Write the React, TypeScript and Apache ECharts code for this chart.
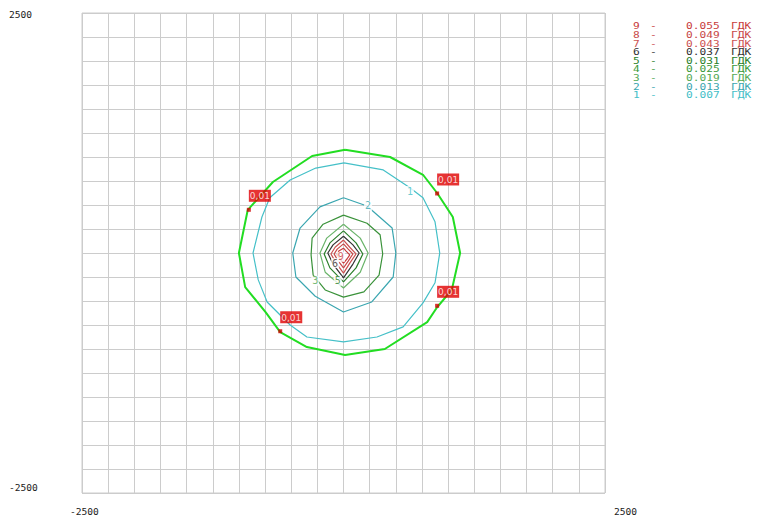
import React, { useEffect, useRef } from 'react';
import * as echarts from 'echarts';

// Legend (isoline levels)
const levelNumbers = ['9', '8', '7', '6', '5', '4', '3', '2', '1'];
const levelValues = ['0.055', '0.049', '0.043', '0.037', '0.031', '0.025', '0.019', '0.013', '0.007'];
const levelUnit = 'ГДК';
const levelColors = ['#c83c3c', '#c84848', '#cc5252', '#333333', '#2a7f2a', '#3c9a3c', '#55aa55', '#3aa6b0', '#45c0c8'];

// Axis tick labels (only extremes shown)
const xTickLabels = ['-2500', '2500'];
const yTickLabels = ['2500', '-2500'];

// Isolines [x, y] in metres
const contour1 = [[5, 938], [380, 865], [635, 680], [760, 575], [875, 325], [920, 0], [875, -310], [760, -520], [570, -770], [320, -875], [0, -925], [-350, -875], [-510, -750], [-730, -510], [-815, -280], [-865, 0], [-780, 375], [-705, 575], [-510, 760], [-265, 885]];
const contour2 = [[0, 575], [225, 490], [465, 260], [500, 0], [475, -250], [270, -510], [0, -615], [-270, -450], [-455, -250], [-485, 0], [-415, 260], [-225, 480]];
const contour3 = [[0, 395], [225, 310], [350, 190], [375, -10], [340, -230], [195, -405], [0, -460], [-175, -385], [-290, -230], [-310, -20], [-300, 155], [-195, 300]];
const contour4 = [[0, 300], [160, 155], [235, 0], [160, -200], [0, -365], [-175, -200], [-225, 0], [-160, 155]];
const contour5 = [[0, 230], [120, 105], [185, -10], [120, -155], [0, -300], [-130, -155], [-185, -10], [-130, 105]];
const contour6 = [[0, 175], [90, 85], [150, 0], [90, -115], [0, -260], [-100, -115], [-150, 0], [-100, 85]];
const contour7 = [[0, 135], [60, 60], [120, -10], [60, -105], [0, -210], [-70, -105], [-120, -10], [-80, 60]];
const contour8 = [[0, 95], [45, 40], [90, -10], [45, -85], [0, -155], [-50, -85], [-90, -10], [-60, 40]];
const contour9 = [[0, 50], [25, 20], [60, -20], [35, -60], [0, -105], [-35, -60], [-60, -20], [-45, 20]];
const outerContour = [[15, 1075], [445, 1000], [760, 815], [895, 625], [1045, 375], [1115, 0], [1035, -385], [895, -565], [800, -720], [395, -1000], [15, -1063], [-350, -980], [-605, -825], [-745, -615], [-940, -355], [-1000, 0], [-915, 450], [-675, 740], [-300, 1010]];

const contours = [contour1, contour2, contour3, contour4, contour5, contour6, contour7, contour8, contour9];
const contourColors = ['#45c0c8', '#3aa6b0', '#3a923a', '#6ab46a', '#2a7f2a', '#333333', '#cc5252', '#c84848', '#c83c3c'];

// Isoline number labels
const contourLabelTexts = ['1', '2', '3', '5', '6', '9'];
const contourLabelPoints = [[635, 645], [235, 490], [-270, -290], [-55, -290], [-80, -105], [-25, -40]];
const contourLabelColors = ['#45c0c8', '#3aa6b0', '#55aa55', '#2a7f2a', '#333333', '#c83c3c'];

// Markers with value 0,01
const markerPoints = [[-905, 450], [895, 620], [-605, -815], [895, -550]];
const markerLabel = '0,01';

export default function App() {
  const ref = useRef<HTMLDivElement>(null);
  useEffect(() => {
    if (!ref.current) return;
    const chart = echarts.init(ref.current, undefined, { renderer: 'svg' });
    const mono = 'DejaVu Sans Mono';
    const series: any[] = [];
    contours.forEach((pts, i) => {
      series.push({
        type: 'line',
        data: [...pts, pts[0]],
        symbol: 'none',
        lineStyle: { color: contourColors[i], width: 1.2 },
        z: 3,
      });
    });
    series.push({
      type: 'line',
      data: [...outerContour, outerContour[0]],
      symbol: 'none',
      lineStyle: { color: '#22dd22', width: 2 },
      z: 4,
    });
    series.push({
      type: 'scatter',
      data: contourLabelPoints.map((p, i) => ({
        value: p,
        label: { color: contourLabelColors[i], formatter: contourLabelTexts[i] },
      })),
      symbolSize: 1,
      itemStyle: { color: 'transparent' },
      label: {
        show: true,
        position: 'inside',
        fontFamily: mono,
        fontSize: 10,
        backgroundColor: '#ffffff',
        padding: [0, 1],
      },
      z: 5,
    });
    series.push({
      type: 'scatter',
      data: markerPoints,
      symbol: 'rect',
      symbolSize: 4,
      itemStyle: { color: '#d00000' },
      label: {
        show: true,
        formatter: markerLabel,
        position: [2, -18],
        align: 'left',
        verticalAlign: 'top',
        color: '#ffffff',
        backgroundColor: '#e00000',
        fontFamily: 'DejaVu Sans',
        fontSize: 9,
        padding: [2, 1, 1, 1],
      },
      z: 6,
    });

    const graphics: any[] = [];
    levelNumbers.forEach((n, i) => {
      const y = 26.5 + i * 8.6;
      const c = levelColors[i];
      const mk = (x: number, text: string) => ({
        type: 'text',
        x,
        y,
        scaleX: 1.4,
        style: { text, x: 0, y: 0, fontFamily: mono, fontSize: 8, lineHeight: 8, fill: c, verticalAlign: 'middle', align: 'left' },
      });
      graphics.push(mk(633, n));
      graphics.push(mk(650, '-'));
      graphics.push(mk(686, levelValues[i]));
      graphics.push(mk(731, levelUnit));
    });
    const axisText = (x: number, y: number, text: string) => ({
      type: 'text',
      x,
      y,
      scaleX: 1.2,
      style: { text, x: 0, y: 0, fontFamily: mono, fontSize: 8, lineHeight: 8, fill: '#222222', verticalAlign: 'middle', align: 'left' },
    });
    graphics.push(axisText(9, 15, yTickLabels[0]));
    graphics.push(axisText(9, 488, yTickLabels[1]));
    graphics.push(axisText(70, 512, xTickLabels[0]));
    graphics.push(axisText(614, 512, xTickLabels[1]));

    const axisCommon = {
      type: 'value',
      min: -2500,
      max: 2500,
      interval: 250,
      axisLabel: { show: false },
      axisTick: { show: false },
      axisLine: { show: false },
      splitLine: { show: true, lineStyle: { color: '#cccccc', width: 1 } },
    };
    chart.setOption({
      animation: false,
      backgroundColor: '#ffffff',
      grid: { left: 82, top: 13, width: 523, height: 480, show: true, borderColor: '#cccccc', borderWidth: 1 },
      xAxis: { ...axisCommon },
      yAxis: { ...axisCommon },
      series,
      graphic: graphics,
    });
    return () => chart.dispose();
  }, []);
  return <div ref={ref} style={{ position: 'fixed', left: 0, top: 0, width: 757, height: 516 }} />;
}
